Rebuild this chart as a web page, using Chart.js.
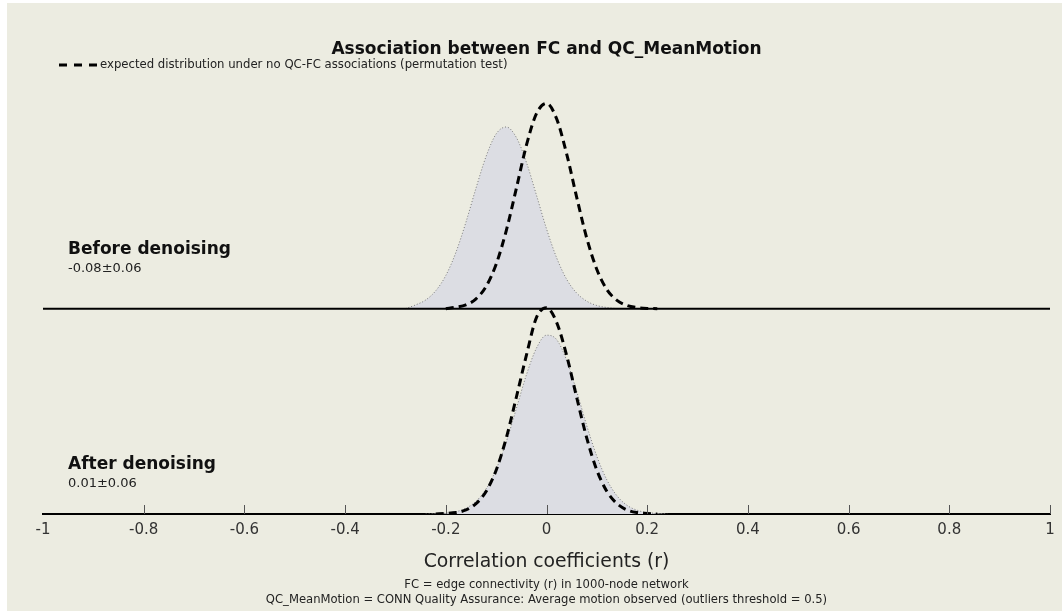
<!DOCTYPE html>
<html>
<head>
<meta charset="utf-8">
<title>Association between FC and QC_MeanMotion</title>
<script src="https://cdn.jsdelivr.net/npm/chart.js@4.4.1/dist/chart.umd.min.js"></script>
<style>
    html, body { margin: 0; padding: 0; background: #ffffff; }
    #grafico { display: block; }
</style>
</head>
<body>
<canvas id="grafico" width="1062" height="613"></canvas>
<script>
// valores (r en el eje x, densidad en el eje y)
const rValues = [-0.34, -0.32, -0.30, -0.28, -0.26, -0.24, -0.22, -0.20, -0.18, -0.16, -0.14,
                 -0.12, -0.10, -0.08, -0.06, -0.04, -0.02, 0, 0.02, 0.04, 0.06, 0.08,
                 0.10, 0.12, 0.14, 0.16, 0.18, 0.20, 0.22, 0.24, 0.26, 0.28, 0.30];

const beforeObserved = [null, null, null, 0.00, 0.13, 0.30, 0.62, 1.15, 1.95, 3.00, 4.18,
                        5.28, 6.06, 6.30, 5.94, 5.08, 3.94, 2.77, 1.77, 1.02, 0.54, 0.26,
                        0.11, 0.04, 0.00, null, null, null, null, null, null, null, null];
const beforeNull = [null, null, null, null, null, null, null, 0.00, 0.05, 0.13, 0.34,
                    0.77, 1.54, 2.70, 4.16, 5.66, 6.76, 7.12, 6.59, 5.37, 3.86, 2.44,
                    1.36, 0.66, 0.29, 0.11, 0.04, 0.01, 0.00, null, null, null, null];
const afterObserved = [null, null, null, null, null, 0.00, 0.01, 0.03, 0.08, 0.20, 0.44,
                       0.87, 1.55, 2.50, 3.65, 4.82, 5.75, 6.20, 6.05, 5.33, 4.25, 3.06,
                       2.00, 1.18, 0.63, 0.30, 0.13, 0.05, 0.02, 0.00, null, null, null];
const afterNull = [null, null, null, null, null, null, 0.00, 0.02, 0.05, 0.14, 0.36,
                   0.78, 1.52, 2.63, 4.04, 5.50, 6.81, 7.15, 6.65, 5.50, 4.04, 2.63,
                   1.52, 0.78, 0.36, 0.14, 0.05, 0.02, 0.00, null, null, null, null];

const tickValues = [-1, -0.8, -0.6, -0.4, -0.2, 0, 0.2, 0.4, 0.6, 0.8, 1];
const tickLabels = ['-1', '-0.8', '-0.6', '-0.4', '-0.2', '0', '0.2', '0.4', '0.6', '0.8', '1'];

const panelNames = ['Before denoising', 'After denoising'];
const panelStats = ['-0.08\u00b10.06', '0.01\u00b10.06'];

const titulo = 'Association between FC and QC_MeanMotion';
const textoLeyenda = 'expected distribution under no QC-FC associations (permutation test)';
const tituloEje = 'Correlation coefficients (r)';
const notas = ['FC = edge connectivity (r) in 1000-node network',
               'QC_MeanMotion = CONN Quality Assurance: Average motion observed (outliers threshold = 0.5)'];

// el panel de arriba se dibuja desplazado hacia arriba
const PANEL_OFFSET = 7.12;

function aPuntos(valores, offset) {
    return rValues.map((r, i) => ({ x: r, y: valores[i] === null ? null : valores[i] + offset }));
}

const fuente = '"DejaVu Sans", "Noto Sans", sans-serif';

const fondoPlugin = {
    id: 'fondo',
    beforeDraw(chart) {
        const ctx = chart.ctx;
        ctx.save();
        ctx.fillStyle = '#ececE1';
        ctx.fillRect(7, 3, 1055, 608);
        ctx.restore();
    }
};

const textosPlugin = {
    id: 'textos',
    afterDraw(chart) {
        const ctx = chart.ctx;
        const xs = chart.scales.x;
        ctx.save();

        // marcas del eje hacia adentro
        ctx.strokeStyle = '#555';
        ctx.lineWidth = 1;
        tickValues.forEach(v => {
            if (v === xs.min) return;
            const px = Math.round(xs.getPixelForValue(v)) + 0.5;
            ctx.beginPath();
            ctx.moveTo(px, xs.top);
            ctx.lineTo(px, xs.top - 9);
            ctx.stroke();
        });

        // leyenda
        ctx.strokeStyle = '#000';
        ctx.lineWidth = 3;
        ctx.setLineDash([8, 7]);
        ctx.beginPath();
        ctx.moveTo(59, 65);
        ctx.lineTo(97, 65);
        ctx.stroke();
        ctx.setLineDash([]);

        ctx.textAlign = 'left';
        ctx.textBaseline = 'middle';
        ctx.fillStyle = '#222';
        ctx.font = '11.7px ' + fuente;
        ctx.fillText(textoLeyenda, 100, 65);

        // nombres de los paneles
        const ysNombre = [250, 465];
        panelNames.forEach((nombre, i) => {
            ctx.fillStyle = '#111';
            ctx.font = 'bold 17px ' + fuente;
            ctx.fillText(nombre, 68, ysNombre[i]);
            ctx.fillStyle = '#222';
            ctx.font = '13px ' + fuente;
            ctx.fillText(panelStats[i], 68, ysNombre[i] + 19);
        });

        // notas al pie
        ctx.textAlign = 'center';
        ctx.fillStyle = '#222';
        ctx.font = '11.6px ' + fuente;
        ctx.fillText(notas[0], 546.5, 585);
        ctx.fillText(notas[1], 546.5, 600);

        ctx.restore();
    }
};

const estiloNulo = {
    borderColor: '#000',
    borderWidth: 3,
    borderDash: [8, 5],
    fill: false,
    pointRadius: 0,
    cubicInterpolationMode: 'monotone',
    order: 0
};

const estiloObservado = {
    borderColor: '#7a7a7a',
    borderWidth: 1,
    borderDash: [1, 2],
    backgroundColor: '#dcdde3',
    pointRadius: 0,
    cubicInterpolationMode: 'monotone',
    order: 2
};

const ctx = document.getElementById('grafico').getContext('2d');
const miGrafico = new Chart(ctx, {
    type: 'line',
    data: {
        datasets: [
            Object.assign({ label: 'Before denoising', data: aPuntos(beforeObserved, PANEL_OFFSET), fill: { value: PANEL_OFFSET } }, estiloObservado),
            Object.assign({ label: 'After denoising', data: aPuntos(afterObserved, 0), fill: 'origin' }, estiloObservado),
            Object.assign({ label: 'Null before', data: aPuntos(beforeNull, PANEL_OFFSET) }, estiloNulo),
            Object.assign({ label: 'Null after', data: aPuntos(afterNull, 0) }, estiloNulo),
            {
                label: 'baseline',
                data: [{ x: tickValues[0], y: PANEL_OFFSET }, { x: tickValues[tickValues.length - 1], y: PANEL_OFFSET }],
                borderColor: '#000',
                borderWidth: 2,
                fill: false,
                pointRadius: 0,
                order: 1
            }
        ]
    },
    options: {
        responsive: false,
        animation: false,
        devicePixelRatio: 1,
        layout: { padding: { left: 43, right: 12, top: 0, bottom: 0 } },
        plugins: {
            legend: { display: false },
            tooltip: { enabled: false },
            title: {
                display: true,
                text: titulo,
                color: '#111',
                font: { family: fuente, size: 17, weight: 'bold' },
                padding: { top: 39, bottom: 7.6 }
            }
        },
        scales: {
            x: {
                type: 'linear',
                min: -1,
                max: 1,
                afterBuildTicks: (scale) => { scale.ticks = tickValues.map(v => ({ value: v })); },
                afterFit: (scale) => { scale.height = 99; },
                grid: { drawOnChartArea: false, drawTicks: false },
                border: { display: true, color: '#000', width: 2 },
                ticks: {
                    padding: 7,
                    color: '#333',
                    autoSkip: false,
                    maxRotation: 0,
                    font: { family: fuente, size: 15 },
                    callback: (v, i) => tickLabels[i]
                },
                title: {
                    display: true,
                    text: tituloEje,
                    color: '#222',
                    font: { family: fuente, size: 18.8 },
                    padding: { top: 0, bottom: 40 }
                }
            },
            y: {
                display: false,
                min: 0,
                max: 15.5
            }
        }
    },
    plugins: [fondoPlugin, textosPlugin]
});
</script>
</body>
</html>
